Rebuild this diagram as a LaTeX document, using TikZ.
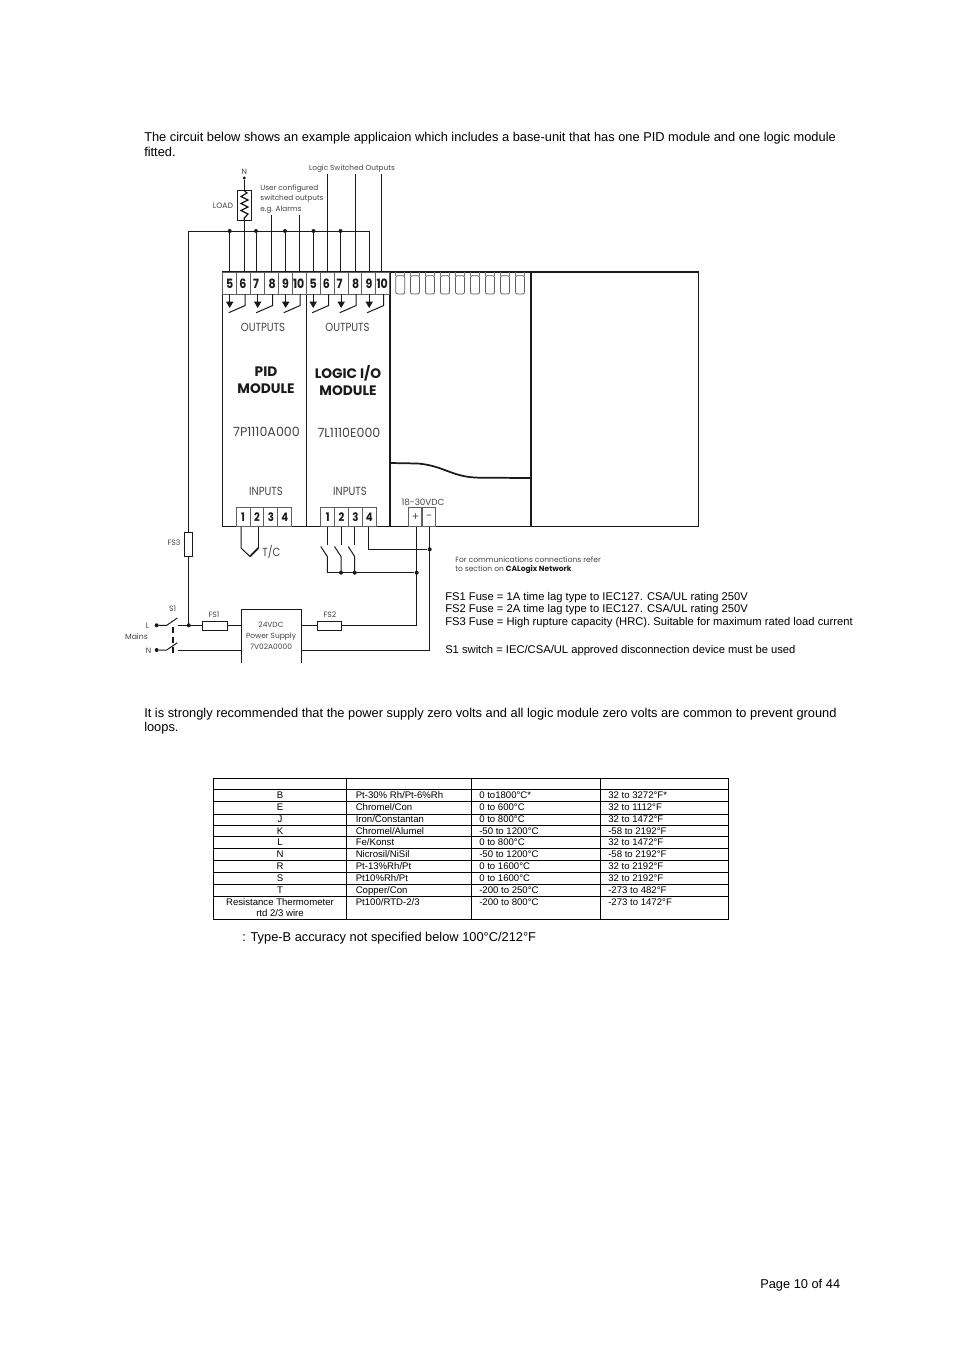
\documentclass[tikz,border=0pt]{standalone}
\usepackage{fontspec}
\setmainfont{Liberation Sans}
\newfontfamily\gothic{Poppins}
\newfontfamily\gothicn[FakeStretch=0.86]{Poppins}
\usetikzlibrary{calc}
\newcommand{\fsz}[1]{\fontsize{#1}{#1}\selectfont}
\newcommand{\trow}[6]{%
  \node[cellc] (r#6a) at (280,#1) {#2};
  \node[cell] (r#6b) at (355.5,#1) {#3};
  \node[cell] (r#6c) at (479,#1) {#4};
  \node[cell] (r#6d) at (608,#1) {#5};
}
\definecolor{ink}{HTML}{1A1A1A}
\definecolor{lab}{HTML}{444444}
\tikzset{
  wire/.style={draw=ink,line width=0.75pt},
  frame/.style={draw=ink,line width=1pt},
  dotj/.style={circle,fill=ink,inner sep=0pt,minimum size=3pt},
  fuse/.style={draw=ink,line width=0.8pt,fill=white,inner sep=0pt},
  body/.style={anchor=base west,inner sep=0pt,font=\fsz{9.62},text=black},
  legend/.style={anchor=base west,inner sep=0pt,font=\fsz{8.4},text=black},
  cell/.style={anchor=base west,inner sep=0pt,font=\fsz{7.2},text=black},
  cellc/.style={anchor=base,inner sep=0pt,font=\fsz{7.2},text=black},
  dlab/.style={inner sep=0pt,font=\gothic\fsz{5.8},text=lab},
  mlab/.style={inner sep=0pt,font=\gothicn\fsz{8.8},text=lab},
  tnum/.style={inner sep=0pt,font=\gothicn\bfseries\fsz{9.6},text=ink},
  mhead/.style={inner sep=0pt,font=\gothic\bfseries\fontsize{10.3}{12.7}\selectfont,text=ink,align=center},
  tbox/.style={draw=ink!70,line width=0.5pt},
  grid/.style={draw=black,line width=0.6pt}
}
\begin{document}
\begin{tikzpicture}[x=0.75pt,y=-0.75pt]
\useasboundingbox (0,0) rectangle (954,1350);
\fill[white] (0,0) rectangle (954,1350);

% body text
\node[body] (t1) at (144,141) {The circuit below shows an example applicaion which includes a base-unit that has one PID module and one logic module};
\node[body] (t2) at (144,156) {fitted.};
\node[body] (t3) at (144,717) {It is strongly recommended that the power supply zero volts and all logic module zero volts are common to prevent ground};
\node[body] (t4) at (144,731) {loops.};
\node[legend] (f1) at (445,600) {FS1 Fuse = 1A time lag type to IEC127. CSA/UL rating 250V};
\node[legend] (f2) at (445,612) {FS2 Fuse = 2A time lag type to IEC127. CSA/UL rating 250V};
\node[legend] (f3) at (445,625) {FS3 Fuse = High rupture capacity (HRC). Suitable for maximum rated load current};
\node[legend] (s1t) at (445,653) {S1 switch = IEC/CSA/UL approved disconnection device must be used};
\node[body] (note) at (242,941) {: Type-B accuracy not specified below 100°C/212°F};
\node[body] (pg) at (760,1288) {Page 10 of 44};

% frames
\coordinate (TL) at (222.7,272); \coordinate (BR) at (698.3,526.5);
\draw[frame] (TL) rectangle (BR);
\foreach \x/\n in {306.2/d1,390/d2,531/d3}{
  \coordinate (\n t) at (\x,272); \coordinate (\n b) at (\x,526.5);
  \draw[frame] (\n t) -- (\n b);
}
% top terminals
\foreach \m/\xo in {a/222.7,b/306.2}{
  \foreach \i/\lab/\dn [count=\k from 0] in {1/5/7,2/6/20.2,3/7/33.4,4/8/49.5,5/9/62.9,6/10/76}{
    \coordinate (c\m\i) at ({\xo+13.9*\k},272);
    \draw[tbox] (c\m\i) rectangle ++(13.9,22);
    \node[tnum] (n\m\i) at ({\xo+\dn},283.5) {\lab};
  }
  \foreach \i/\dx/\ds in {1/7/22.5,2/35/50,3/63/77.5}{
    \coordinate (ar\m\i) at ({\xo+\dx},294);
    \coordinate (ah\m\i) at ({\xo+\dx},308);
    \draw[wire,line width=1pt] (ar\m\i) -- ++(0,8);
    \fill[ink] ($(ah\m\i)+(-3.8,-6.5)$) -- ++(7.6,0) -- (ah\m\i) -- cycle;
    \coordinate (sw\m\i) at ({\xo+\ds},294);
    \draw[wire] (sw\m\i) -- ++(0,11.5) -- ++(-16.5,7.2);
  }
}
% slots of base unit
\foreach \x [count=\k] in {400.3,415,430,445,460,475,490,505,520}{
  \coordinate (sl\k) at (\x,272);
  \draw[draw=ink!70,line width=0.6pt,rounded corners=1.5pt]
     ($(sl\k)+(-4.5,3.7)$) -- ++(0,18.3) -- ++(9,0) -- ++(0,-18.3) -- cycle;
  \draw[draw=ink!60,line width=0.5pt] ($(sl\k)+(-4.5,0)$) -- ++(0,3.7) ($(sl\k)+(4.5,0)$) -- ++(0,3.7);
}
% curve
\coordinate (ca) at (390,463); \coordinate (cb) at (531,478);
\draw[draw=ink,line width=1.3pt] (ca) -- (418,463.5) .. controls (445,466) and (452,477.5) .. (480,477.7) -- (cb);
% bottom terminals
\foreach \xo/\m in {236/p,320.7/q}{
  \foreach \i/\lab [count=\k from 0] in {1/1,2/2,3/3,4/4}{
    \coordinate (\m b\i) at ({\xo+13.9*\k},507.5);
    \draw[tbox] (\m b\i) rectangle ++(13.9,19);
    \node[tnum,font=\gothicn\bfseries\fsz{8.8}] (\m n\i) at ({\xo+13.9*\k+7},517) {\lab};
  }
}
\coordinate (pw) at (408.5,507.5);
\coordinate (pw2) at (422,507.5);
\draw[tbox] (pw) rectangle ++(13.3,19) (pw2) rectangle ++(13.3,19);
\node[dlab,font=\gothic\fsz{8}] (plus) at (415.5,517) {+};
\node[dlab,font=\gothic\fsz{8}] (minus) at (429,517) {−};

% labels
\node[mlab] (o1) at (263,327) {OUTPUTS};
\node[mlab] (o2) at (347.5,327) {OUTPUTS};
\node[mhead] (pid) at (266,380.5) {PID\\MODULE};
\node[mhead] (log) at (348,380.5) {LOGIC I/O\\MODULE};
\node[inner sep=0pt,font=\gothic\fsz{9.5},text=lab] (c1) at (266.5,432) {7P1110A000};
\node[inner sep=0pt,font=\gothic\fsz{9.5},text=lab] (c2) at (349,433) {7L1110E000};
\node[mlab] (i1) at (266,491) {INPUTS};
\node[mlab] (i2) at (350,491) {INPUTS};
\node[dlab,font=\gothic\fsz{6.6}] (v) at (423,502.5) {18-30VDC};
\node[mlab] (tc) at (271.5,552) {T/C};
\node[dlab,font=\gothic\fsz{5.5}] (lso) at (352,168.5) {Logic Switched Outputs};
\node[dlab,align=left,font=\gothic\fontsize{5.5}{7.9}\selectfont] (ucs) at (292,199) {User configured\\switched outputs\\e.g. Alarms};
\node[dlab] (nl) at (244.3,172) {N};
\node[dlab] (ll) at (223,206) {LOAD};
\node[dlab] (fs3l) at (174,543) {FS3};
\node[dlab] (s1l) at (172.7,609) {S1};
\node[dlab] (fs1l) at (214,615) {FS1};
\node[dlab] (fs2l) at (330,615) {FS2};
\node[dlab] (ml) at (136.5,636.5) {Mains};
\node[dlab] (lL) at (147.5,625.5) {L};
\node[dlab] (lN) at (148.5,650.5) {N};
\node[dlab,anchor=west,align=left,font=\gothic\fontsize{5.65}{7.1}\selectfont] (comm) at (455,565) {For communications connections refer\\to section on {\bfseries\color{ink}CALogix Network}};

% top wiring
\coordinate (bl) at (188.8,231); \coordinate (br) at (369,231);
\draw[wire] (bl) -- (br);
\foreach \x/\n in {229.7/a1,256/a3,285/a5,313.5/b1,340.5/b3}{
  \node[dotj] (j\n) at (\x,231) {};
  \coordinate (e\n) at (\x,272);
  \draw[wire] (j\n) -- (e\n);
}
\coordinate (e9) at (369,272);
\draw[wire] (br) -- (e9);
\foreach \x/\y/\n in {271.7/215/u1,299.3/215/u2,327.7/174/v1,355.3/174/v2,381.7/174/v3}{
  \coordinate (s\n) at (\x,\y); \coordinate (e\n) at (\x,272);
  \draw[wire] (s\n) -- (e\n);
}
% load
\node[dotj,minimum size=2.5pt] (nd) at (244.3,178) {};
\coordinate (le) at (244.3,272);
\draw[wire] (nd) -- (le);
\node[fuse,minimum height=22.5pt,minimum width=10.5pt] (load) at (244.3,205.7) {};
\draw[wire,line width=0.9pt] (244.3,190.7) -- (247,193) -- (241,196.5) -- (248,200) -- (241,203.5) -- (248,207) -- (241,210.5) -- (248,214) -- (244.3,218) -- (244.3,220.7);

% main left feed
\coordinate (fj) at (188.8,625.3);
\node[fuse,minimum width=6.2pt,minimum height=17.7pt] (fs3) at (188.8,544.5) {};
\draw[wire] (bl) -- (fs3) -- (fj);
\node[dotj] (fjd) at (fj) {};

% switches
\node[dotj] (Ld) at (156.7,625.3) {};
\node[dotj] (Nd) at (156.7,650) {};
\coordinate (Lc) at (178,625.3); \coordinate (Nc) at (178,650);
\draw[wire] (Ld) -- ++(10,0) -- (177.3,618);
\draw[wire] (Nd) -- ++(10,0) -- (177.3,642.7);
\coordinate (sd1) at (173,627); \coordinate (sd2) at (173,657);
\draw[draw=ink,line width=1.2pt,dash pattern=on 4.5pt off 3pt] (sd1) -- (sd2);

% fuses, supply
\node[fuse,minimum width=18.4pt,minimum height=6.4pt] (fs1) at (215,625.9) {};
\node[fuse,minimum width=18.4pt,minimum height=6.4pt] (fs2) at (329.5,625.9) {};
\coordinate (psTL) at (241.3,609.3); \coordinate (psTR) at (301,609.3);
\coordinate (psBL) at (241.3,662.7); \coordinate (psBR) at (301,662.7);
\draw[wire] (psBL) -- (psTL) -- (psTR) -- (psBR);
\node[dlab,align=center,font=\gothic\fontsize{5.6}{8.2}\selectfont] (psu) at (271,636) {24VDC\\Power Supply\\7V02A0000};
\coordinate (pL) at (241.3,625.3); \coordinate (pR) at (301,625.3);
\coordinate (pNL) at (241.3,650); \coordinate (pNR) at (301,650);
\draw[wire] (Lc) -- (fs1.west|-Lc) (fs1.east|-Lc) -- (pL);
\draw[wire] (pR) -- (fs2.west|-pR) (fs2.east|-pR) -- (416.7,625.3) -- (416.7,526.5);
\draw[wire] (Nc) -- (pNL);
\draw[wire] (pNR) -- (429.7,650) -- (429.7,526.5);

% T/C
\coordinate (tc1) at (241,526.5); \coordinate (tc2) at (258.3,526.5);
\coordinate (tcp) at (250,556.5);
\draw[wire] (tc1) -- (241,548) -- (tcp);
\draw[wire,line width=1.3pt] (tcp) -- (258.3,548);
\draw[wire] (258.3,548) -- (tc2);
% logic inputs
\foreach \x/\n in {327.3/x1,341/x2,354.7/x3}{
  \coordinate (in\n) at (\x,526.5);
  \draw[wire] (in\n) -- (\x,545);
  \draw[wire] (\x-6.5,546.5) -- (\x,556.5) -- (\x,572.7);
}
\node[dotj] (d1) at (341,572.7) {};
\node[dotj] (d2) at (354.7,572.7) {};
\node[dotj] (d3) at (416.7,572.7) {};
\draw[wire] (327.3,572.7) -- (d3);
\coordinate (i4) at (368.3,526.5);
\node[dotj] (d4) at (429.7,549.3) {};
\draw[wire] (i4) -- (368.3,549.3) -- (d4);

% table
\coordinate (g1) at (213,778.3); \coordinate (g2) at (728.5,919.3);
\draw[grid] (g1) rectangle (g2);
\foreach \x/\n in {346.5/a,471/b,600/c}{
  \coordinate (v\n t) at (\x,778.3); \coordinate (v\n b) at (\x,919.3);
  \draw[grid] (v\n t) -- (v\n b);
}
\foreach \y [count=\k] in {789.3,801.7,814,825.7,836.7,848.7,860.7,872.7,884.3,896}{
  \coordinate (hl\k) at (213,\y); \coordinate (hr\k) at (728.5,\y);
  \draw[grid] (hl\k) -- (hr\k);
}
\trow{798.3}{B}{Pt-30\% Rh/Pt-6\%Rh}{0 to1800°C*}{32 to 3272°F*}{1}
\trow{810.3}{E}{Chromel/Con}{0 to 600°C}{32 to 1112°F}{2}
\trow{822.3}{J}{Iron/Constantan}{0 to 800°C}{32 to 1472°F}{3}
\trow{834.2}{K}{Chromel/Alumel}{-50 to 1200°C}{-58 to 2192°F}{4}
\trow{845.7}{L}{Fe/Konst}{0 to 800°C}{32 to 1472°F}{5}
\trow{857.7}{N}{Nicrosil/NiSil}{-50 to 1200°C}{-58 to 2192°F}{6}
\trow{869.7}{R}{Pt-13\%Rh/Pt}{0 to 1600°C}{32 to 2192°F}{7}
\trow{881.7}{S}{Pt10\%Rh/Pt}{0 to 1600°C}{32 to 2192°F}{8}
\trow{893.4}{T}{Copper/Con}{-200 to 250°C}{-273 to 482°F}{9}
\trow{905.5}{Resistance Thermometer}{Pt100/RTD-2/3}{-200 to 800°C}{-273 to 1472°F}{10}
\node[cellc] (r11) at (280,916) {rtd 2/3 wire};
\end{tikzpicture}
\end{document}
